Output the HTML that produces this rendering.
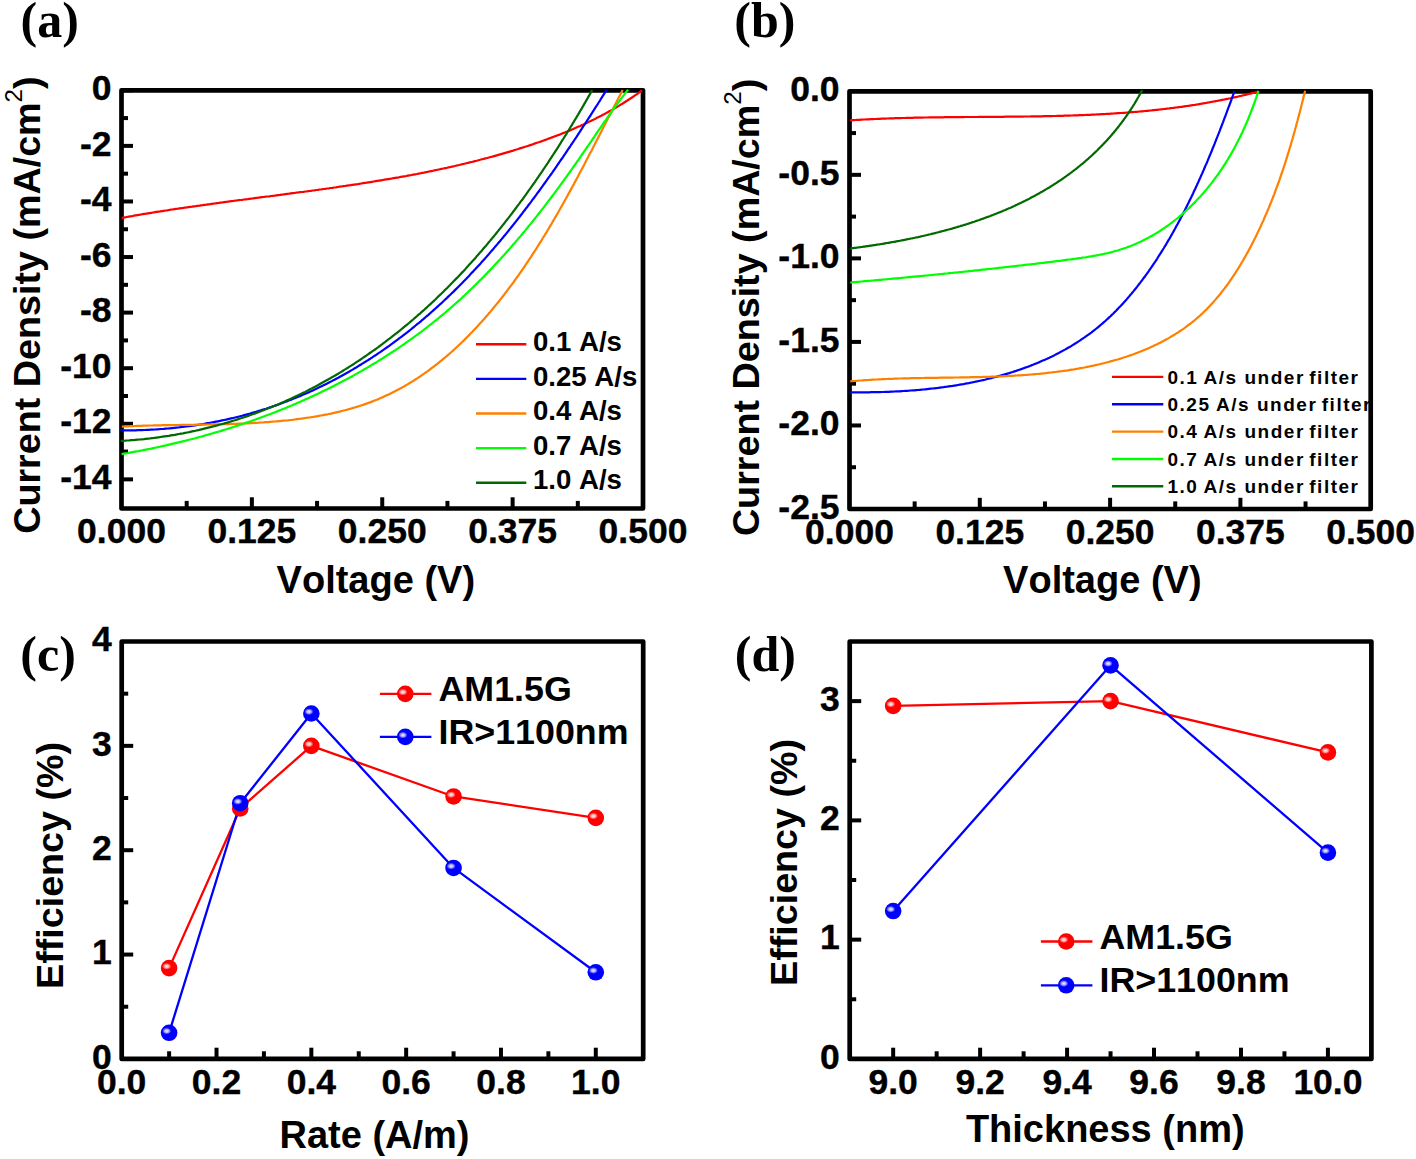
<!DOCTYPE html>
<html><head><meta charset="utf-8"><title>JV curves and efficiency</title><style>
html,body{margin:0;padding:0;background:#fff;}
body{width:1416px;height:1159px;overflow:hidden;}
svg{display:block;}
text{font-family:"Liberation Sans", sans-serif;font-weight:bold;fill:#000;font-kerning:none;}
.tk{font-size:35.5px;stroke:#000;stroke-width:0.4px;}
.ti{font-size:38px;}
.pl{font-family:"Liberation Serif", serif;font-size:50px;}
.lga{font-size:27.6px;}
.lgb{font-size:19px;letter-spacing:1.5px;}
.lgc{font-size:35.8px;}
</style></head><body>
<svg width="1416" height="1159" viewBox="0 0 1416 1159">
<defs>
<radialGradient id="hl"><stop offset="0" stop-color="#fff" stop-opacity="0.95"/><stop offset="0.45" stop-color="#fff" stop-opacity="0.7"/><stop offset="1" stop-color="#fff" stop-opacity="0"/></radialGradient>
</defs>
<rect width="1416" height="1159" fill="#fff"/>
<text x="20.5" y="37.3" class="pl">(a)</text>
<text x="734.3" y="37.3" class="pl">(b)</text>
<text x="20.3" y="671.3" class="pl">(c)</text>
<text x="734.8" y="670.8" class="pl">(d)</text>
<line x1="476" y1="344.3" x2="526.3" y2="344.3" stroke="#ff0000" stroke-width="2.4"/>
<text x="533" y="350.9" class="lga">0.1 A/s</text>
<line x1="476" y1="378.9" x2="526.3" y2="378.9" stroke="#0000ff" stroke-width="2.4"/>
<text x="533" y="385.5" class="lga">0.25 A/s</text>
<line x1="476" y1="413.5" x2="526.3" y2="413.5" stroke="#ff8000" stroke-width="2.4"/>
<text x="533" y="420.1" class="lga">0.4 A/s</text>
<line x1="476" y1="448.1" x2="526.3" y2="448.1" stroke="#00ff00" stroke-width="2.4"/>
<text x="533" y="454.7" class="lga">0.7 A/s</text>
<line x1="476" y1="482.7" x2="526.3" y2="482.7" stroke="#006a00" stroke-width="2.4"/>
<text x="533" y="489.3" class="lga">1.0 A/s</text>
<line x1="1112" y1="376.9" x2="1163.3" y2="376.9" stroke="#ff0000" stroke-width="2.4"/>
<text y="383.7" class="lgb"><tspan x="1167.5">0.1</tspan><tspan x="1203.5">A/s</tspan><tspan x="1244.5">under</tspan><tspan x="1309.3">filter</tspan></text>
<line x1="1112" y1="404.25" x2="1163.3" y2="404.25" stroke="#0000ff" stroke-width="2.4"/>
<text y="411.05" class="lgb"><tspan x="1167.5">0.25</tspan><tspan x="1216">A/s</tspan><tspan x="1257">under</tspan><tspan x="1321.8">filter</tspan></text>
<line x1="1112" y1="431.6" x2="1163.3" y2="431.6" stroke="#ff8000" stroke-width="2.4"/>
<text y="438.4" class="lgb"><tspan x="1167.5">0.4</tspan><tspan x="1203.5">A/s</tspan><tspan x="1244.5">under</tspan><tspan x="1309.3">filter</tspan></text>
<line x1="1112" y1="458.95" x2="1163.3" y2="458.95" stroke="#00ff00" stroke-width="2.4"/>
<text y="465.75" class="lgb"><tspan x="1167.5">0.7</tspan><tspan x="1203.5">A/s</tspan><tspan x="1244.5">under</tspan><tspan x="1309.3">filter</tspan></text>
<line x1="1112" y1="486.3" x2="1163.3" y2="486.3" stroke="#006a00" stroke-width="2.4"/>
<text y="493.1" class="lgb"><tspan x="1167.5">1.0</tspan><tspan x="1203.5">A/s</tspan><tspan x="1244.5">under</tspan><tspan x="1309.3">filter</tspan></text>
<polyline points="169.11,968.12 240.22,808.46 311.34,745.85 453.56,796.46 595.79,817.85" fill="none" stroke="#ff0000" stroke-width="2.3" stroke-linejoin="round"/>
<polyline points="169.11,1032.81 240.22,803.24 311.34,713.5 453.56,867.94 595.79,972.29" fill="none" stroke="#0000ff" stroke-width="2.3" stroke-linejoin="round"/>
<circle cx="169.11" cy="968.12" r="8.3" fill="#ff0000"/>
<ellipse cx="166.71" cy="966.32" rx="4.6" ry="3.4" fill="url(#hl)"/>
<circle cx="240.22" cy="808.46" r="8.3" fill="#ff0000"/>
<ellipse cx="237.82" cy="806.66" rx="4.6" ry="3.4" fill="url(#hl)"/>
<circle cx="311.34" cy="745.85" r="8.3" fill="#ff0000"/>
<ellipse cx="308.94" cy="744.05" rx="4.6" ry="3.4" fill="url(#hl)"/>
<circle cx="453.56" cy="796.46" r="8.3" fill="#ff0000"/>
<ellipse cx="451.16" cy="794.66" rx="4.6" ry="3.4" fill="url(#hl)"/>
<circle cx="595.79" cy="817.85" r="8.3" fill="#ff0000"/>
<ellipse cx="593.39" cy="816.05" rx="4.6" ry="3.4" fill="url(#hl)"/>
<circle cx="169.11" cy="1032.81" r="8.3" fill="#0000ff"/>
<ellipse cx="166.71" cy="1031.01" rx="4.6" ry="3.4" fill="url(#hl)"/>
<circle cx="240.22" cy="803.24" r="8.3" fill="#0000ff"/>
<ellipse cx="237.82" cy="801.44" rx="4.6" ry="3.4" fill="url(#hl)"/>
<circle cx="311.34" cy="713.5" r="8.3" fill="#0000ff"/>
<ellipse cx="308.94" cy="711.7" rx="4.6" ry="3.4" fill="url(#hl)"/>
<circle cx="453.56" cy="867.94" r="8.3" fill="#0000ff"/>
<ellipse cx="451.16" cy="866.14" rx="4.6" ry="3.4" fill="url(#hl)"/>
<circle cx="595.79" cy="972.29" r="8.3" fill="#0000ff"/>
<ellipse cx="593.39" cy="970.49" rx="4.6" ry="3.4" fill="url(#hl)"/>
<polyline points="893.17,705.9 1110.55,701.13 1327.93,752.41" fill="none" stroke="#ff0000" stroke-width="2.3" stroke-linejoin="round"/>
<polyline points="893.17,911.02 1110.55,665.35 1327.93,852.59" fill="none" stroke="#0000ff" stroke-width="2.3" stroke-linejoin="round"/>
<circle cx="893.17" cy="705.9" r="8.3" fill="#ff0000"/>
<ellipse cx="890.77" cy="704.1" rx="4.6" ry="3.4" fill="url(#hl)"/>
<circle cx="1110.55" cy="701.13" r="8.3" fill="#ff0000"/>
<ellipse cx="1108.15" cy="699.33" rx="4.6" ry="3.4" fill="url(#hl)"/>
<circle cx="1327.93" cy="752.41" r="8.3" fill="#ff0000"/>
<ellipse cx="1325.53" cy="750.61" rx="4.6" ry="3.4" fill="url(#hl)"/>
<circle cx="893.17" cy="911.02" r="8.3" fill="#0000ff"/>
<ellipse cx="890.77" cy="909.22" rx="4.6" ry="3.4" fill="url(#hl)"/>
<circle cx="1110.55" cy="665.35" r="8.3" fill="#0000ff"/>
<ellipse cx="1108.15" cy="663.55" rx="4.6" ry="3.4" fill="url(#hl)"/>
<circle cx="1327.93" cy="852.59" r="8.3" fill="#0000ff"/>
<ellipse cx="1325.53" cy="850.79" rx="4.6" ry="3.4" fill="url(#hl)"/>
<line x1="379.9" y1="693.9" x2="431.4" y2="693.9" stroke="#ff0000" stroke-width="2.3"/>
<circle cx="405.3" cy="693.9" r="8.3" fill="#ff0000"/>
<ellipse cx="402.9" cy="692.1" rx="4.6" ry="3.4" fill="url(#hl)"/>
<text x="438.5" y="700.9" class="lgc">AM1.5G</text>
<line x1="379.9" y1="736.9" x2="431.4" y2="736.9" stroke="#0000ff" stroke-width="2.3"/>
<circle cx="405.3" cy="736.9" r="8.3" fill="#0000ff"/>
<ellipse cx="402.9" cy="735.1" rx="4.6" ry="3.4" fill="url(#hl)"/>
<text x="438.5" y="743.9" class="lgc">IR&gt;1100nm</text>
<line x1="1040.9" y1="941.5" x2="1092.4" y2="941.5" stroke="#ff0000" stroke-width="2.3"/>
<circle cx="1066.2" cy="941.5" r="8.3" fill="#ff0000"/>
<ellipse cx="1063.8" cy="939.7" rx="4.6" ry="3.4" fill="url(#hl)"/>
<text x="1099.5" y="948.5" class="lgc">AM1.5G</text>
<line x1="1040.9" y1="985.3" x2="1092.4" y2="985.3" stroke="#0000ff" stroke-width="2.3"/>
<circle cx="1066.2" cy="985.3" r="8.3" fill="#0000ff"/>
<ellipse cx="1063.8" cy="983.5" rx="4.6" ry="3.4" fill="url(#hl)"/>
<text x="1099.5" y="992.3" class="lgc">IR&gt;1100nm</text>
<rect x="121.5" y="90.3" width="521.5" height="418.2" fill="none" stroke="#000" stroke-width="4.7" stroke-linejoin="round"/>
<rect x="849.5" y="91.3" width="521.2" height="417.7" fill="none" stroke="#000" stroke-width="4.7" stroke-linejoin="round"/>
<rect x="121.7" y="641.5" width="521.5" height="417.4" fill="none" stroke="#000" stroke-width="4.7" stroke-linejoin="round"/>
<rect x="849.7" y="641.5" width="521.7" height="417.4" fill="none" stroke="#000" stroke-width="4.7" stroke-linejoin="round"/>
<line x1="121.5" y1="90.3" x2="133" y2="90.3" stroke="#000" stroke-width="4.0"/>
<line x1="121.5" y1="145.88" x2="133" y2="145.88" stroke="#000" stroke-width="4.0"/>
<line x1="121.5" y1="201.46" x2="133" y2="201.46" stroke="#000" stroke-width="4.0"/>
<line x1="121.5" y1="257.04" x2="133" y2="257.04" stroke="#000" stroke-width="4.0"/>
<line x1="121.5" y1="312.62" x2="133" y2="312.62" stroke="#000" stroke-width="4.0"/>
<line x1="121.5" y1="368.2" x2="133" y2="368.2" stroke="#000" stroke-width="4.0"/>
<line x1="121.5" y1="423.78" x2="133" y2="423.78" stroke="#000" stroke-width="4.0"/>
<line x1="121.5" y1="479.36" x2="133" y2="479.36" stroke="#000" stroke-width="4.0"/>
<line x1="121.5" y1="118.09" x2="128" y2="118.09" stroke="#000" stroke-width="4.0"/>
<line x1="121.5" y1="173.67" x2="128" y2="173.67" stroke="#000" stroke-width="4.0"/>
<line x1="121.5" y1="229.25" x2="128" y2="229.25" stroke="#000" stroke-width="4.0"/>
<line x1="121.5" y1="284.83" x2="128" y2="284.83" stroke="#000" stroke-width="4.0"/>
<line x1="121.5" y1="340.41" x2="128" y2="340.41" stroke="#000" stroke-width="4.0"/>
<line x1="121.5" y1="395.99" x2="128" y2="395.99" stroke="#000" stroke-width="4.0"/>
<line x1="121.5" y1="451.57" x2="128" y2="451.57" stroke="#000" stroke-width="4.0"/>
<text x="111.5" y="100" text-anchor="end" class="tk">0</text>
<text x="111.5" y="155.58" text-anchor="end" class="tk">-2</text>
<text x="111.5" y="211.16" text-anchor="end" class="tk">-4</text>
<text x="111.5" y="266.74" text-anchor="end" class="tk">-6</text>
<text x="111.5" y="322.32" text-anchor="end" class="tk">-8</text>
<text x="111.5" y="377.9" text-anchor="end" class="tk">-10</text>
<text x="111.5" y="433.48" text-anchor="end" class="tk">-12</text>
<text x="111.5" y="489.06" text-anchor="end" class="tk">-14</text>
<line x1="251.88" y1="508.5" x2="251.88" y2="497.3" stroke="#000" stroke-width="4.0"/>
<line x1="382.25" y1="508.5" x2="382.25" y2="497.3" stroke="#000" stroke-width="4.0"/>
<line x1="512.62" y1="508.5" x2="512.62" y2="497.3" stroke="#000" stroke-width="4.0"/>
<line x1="186.69" y1="508.5" x2="186.69" y2="500.9" stroke="#000" stroke-width="4.0"/>
<line x1="317.06" y1="508.5" x2="317.06" y2="500.9" stroke="#000" stroke-width="4.0"/>
<line x1="447.44" y1="508.5" x2="447.44" y2="500.9" stroke="#000" stroke-width="4.0"/>
<line x1="577.81" y1="508.5" x2="577.81" y2="500.9" stroke="#000" stroke-width="4.0"/>
<text x="121.5" y="542.9" text-anchor="middle" class="tk">0.000</text>
<text x="251.88" y="542.9" text-anchor="middle" class="tk">0.125</text>
<text x="382.25" y="542.9" text-anchor="middle" class="tk">0.250</text>
<text x="512.62" y="542.9" text-anchor="middle" class="tk">0.375</text>
<text x="643" y="542.9" text-anchor="middle" class="tk">0.500</text>
<line x1="849.5" y1="174.84" x2="861" y2="174.84" stroke="#000" stroke-width="4.0"/>
<line x1="849.5" y1="258.38" x2="861" y2="258.38" stroke="#000" stroke-width="4.0"/>
<line x1="849.5" y1="341.92" x2="861" y2="341.92" stroke="#000" stroke-width="4.0"/>
<line x1="849.5" y1="425.46" x2="861" y2="425.46" stroke="#000" stroke-width="4.0"/>
<line x1="849.5" y1="133.07" x2="856" y2="133.07" stroke="#000" stroke-width="4.0"/>
<line x1="849.5" y1="216.61" x2="856" y2="216.61" stroke="#000" stroke-width="4.0"/>
<line x1="849.5" y1="300.15" x2="856" y2="300.15" stroke="#000" stroke-width="4.0"/>
<line x1="849.5" y1="383.69" x2="856" y2="383.69" stroke="#000" stroke-width="4.0"/>
<line x1="849.5" y1="467.23" x2="856" y2="467.23" stroke="#000" stroke-width="4.0"/>
<text x="839.5" y="101" text-anchor="end" class="tk">0.0</text>
<text x="839.5" y="184.54" text-anchor="end" class="tk">-0.5</text>
<text x="839.5" y="268.08" text-anchor="end" class="tk">-1.0</text>
<text x="839.5" y="351.62" text-anchor="end" class="tk">-1.5</text>
<text x="839.5" y="435.16" text-anchor="end" class="tk">-2.0</text>
<text x="839.5" y="518.7" text-anchor="end" class="tk">-2.5</text>
<line x1="979.8" y1="509" x2="979.8" y2="497.8" stroke="#000" stroke-width="4.0"/>
<line x1="1110.1" y1="509" x2="1110.1" y2="497.8" stroke="#000" stroke-width="4.0"/>
<line x1="1240.4" y1="509" x2="1240.4" y2="497.8" stroke="#000" stroke-width="4.0"/>
<line x1="914.65" y1="509" x2="914.65" y2="501.4" stroke="#000" stroke-width="4.0"/>
<line x1="1044.95" y1="509" x2="1044.95" y2="501.4" stroke="#000" stroke-width="4.0"/>
<line x1="1175.25" y1="509" x2="1175.25" y2="501.4" stroke="#000" stroke-width="4.0"/>
<line x1="1305.55" y1="509" x2="1305.55" y2="501.4" stroke="#000" stroke-width="4.0"/>
<text x="849.5" y="543.6" text-anchor="middle" class="tk">0.000</text>
<text x="979.8" y="543.6" text-anchor="middle" class="tk">0.125</text>
<text x="1110.1" y="543.6" text-anchor="middle" class="tk">0.250</text>
<text x="1240.4" y="543.6" text-anchor="middle" class="tk">0.375</text>
<text x="1370.7" y="543.6" text-anchor="middle" class="tk">0.500</text>
<line x1="121.7" y1="954.55" x2="133.2" y2="954.55" stroke="#000" stroke-width="4.0"/>
<line x1="121.7" y1="850.2" x2="133.2" y2="850.2" stroke="#000" stroke-width="4.0"/>
<line x1="121.7" y1="745.85" x2="133.2" y2="745.85" stroke="#000" stroke-width="4.0"/>
<line x1="121.7" y1="1006.73" x2="128.2" y2="1006.73" stroke="#000" stroke-width="4.0"/>
<line x1="121.7" y1="902.38" x2="128.2" y2="902.38" stroke="#000" stroke-width="4.0"/>
<line x1="121.7" y1="798.03" x2="128.2" y2="798.03" stroke="#000" stroke-width="4.0"/>
<line x1="121.7" y1="693.67" x2="128.2" y2="693.67" stroke="#000" stroke-width="4.0"/>
<text x="111.7" y="1068.6" text-anchor="end" class="tk">0</text>
<text x="111.7" y="964.25" text-anchor="end" class="tk">1</text>
<text x="111.7" y="859.9" text-anchor="end" class="tk">2</text>
<text x="111.7" y="755.55" text-anchor="end" class="tk">3</text>
<text x="111.7" y="651.2" text-anchor="end" class="tk">4</text>
<line x1="216.52" y1="1058.9" x2="216.52" y2="1047.7" stroke="#000" stroke-width="4.0"/>
<line x1="311.34" y1="1058.9" x2="311.34" y2="1047.7" stroke="#000" stroke-width="4.0"/>
<line x1="406.15" y1="1058.9" x2="406.15" y2="1047.7" stroke="#000" stroke-width="4.0"/>
<line x1="500.97" y1="1058.9" x2="500.97" y2="1047.7" stroke="#000" stroke-width="4.0"/>
<line x1="595.79" y1="1058.9" x2="595.79" y2="1047.7" stroke="#000" stroke-width="4.0"/>
<line x1="169.11" y1="1058.9" x2="169.11" y2="1051.3" stroke="#000" stroke-width="4.0"/>
<line x1="263.93" y1="1058.9" x2="263.93" y2="1051.3" stroke="#000" stroke-width="4.0"/>
<line x1="358.75" y1="1058.9" x2="358.75" y2="1051.3" stroke="#000" stroke-width="4.0"/>
<line x1="453.56" y1="1058.9" x2="453.56" y2="1051.3" stroke="#000" stroke-width="4.0"/>
<line x1="548.38" y1="1058.9" x2="548.38" y2="1051.3" stroke="#000" stroke-width="4.0"/>
<text x="121.7" y="1093.8" text-anchor="middle" class="tk">0.0</text>
<text x="216.52" y="1093.8" text-anchor="middle" class="tk">0.2</text>
<text x="311.34" y="1093.8" text-anchor="middle" class="tk">0.4</text>
<text x="406.15" y="1093.8" text-anchor="middle" class="tk">0.6</text>
<text x="500.97" y="1093.8" text-anchor="middle" class="tk">0.8</text>
<text x="595.79" y="1093.8" text-anchor="middle" class="tk">1.0</text>
<line x1="849.7" y1="939.64" x2="861.2" y2="939.64" stroke="#000" stroke-width="4.0"/>
<line x1="849.7" y1="820.39" x2="861.2" y2="820.39" stroke="#000" stroke-width="4.0"/>
<line x1="849.7" y1="701.13" x2="861.2" y2="701.13" stroke="#000" stroke-width="4.0"/>
<line x1="849.7" y1="999.27" x2="856.2" y2="999.27" stroke="#000" stroke-width="4.0"/>
<line x1="849.7" y1="880.01" x2="856.2" y2="880.01" stroke="#000" stroke-width="4.0"/>
<line x1="849.7" y1="760.76" x2="856.2" y2="760.76" stroke="#000" stroke-width="4.0"/>
<text x="839.7" y="1068.6" text-anchor="end" class="tk">0</text>
<text x="839.7" y="949.34" text-anchor="end" class="tk">1</text>
<text x="839.7" y="830.09" text-anchor="end" class="tk">2</text>
<text x="839.7" y="710.83" text-anchor="end" class="tk">3</text>
<line x1="893.17" y1="1058.9" x2="893.17" y2="1047.7" stroke="#000" stroke-width="4.0"/>
<line x1="980.12" y1="1058.9" x2="980.12" y2="1047.7" stroke="#000" stroke-width="4.0"/>
<line x1="1067.08" y1="1058.9" x2="1067.08" y2="1047.7" stroke="#000" stroke-width="4.0"/>
<line x1="1154.02" y1="1058.9" x2="1154.02" y2="1047.7" stroke="#000" stroke-width="4.0"/>
<line x1="1240.98" y1="1058.9" x2="1240.98" y2="1047.7" stroke="#000" stroke-width="4.0"/>
<line x1="1327.93" y1="1058.9" x2="1327.93" y2="1047.7" stroke="#000" stroke-width="4.0"/>
<line x1="936.65" y1="1058.9" x2="936.65" y2="1051.3" stroke="#000" stroke-width="4.0"/>
<line x1="1023.6" y1="1058.9" x2="1023.6" y2="1051.3" stroke="#000" stroke-width="4.0"/>
<line x1="1110.55" y1="1058.9" x2="1110.55" y2="1051.3" stroke="#000" stroke-width="4.0"/>
<line x1="1197.5" y1="1058.9" x2="1197.5" y2="1051.3" stroke="#000" stroke-width="4.0"/>
<line x1="1284.45" y1="1058.9" x2="1284.45" y2="1051.3" stroke="#000" stroke-width="4.0"/>
<text x="893.17" y="1093.8" text-anchor="middle" class="tk">9.0</text>
<text x="980.12" y="1093.8" text-anchor="middle" class="tk">9.2</text>
<text x="1067.08" y="1093.8" text-anchor="middle" class="tk">9.4</text>
<text x="1154.02" y="1093.8" text-anchor="middle" class="tk">9.6</text>
<text x="1240.98" y="1093.8" text-anchor="middle" class="tk">9.8</text>
<text x="1327.93" y="1093.8" text-anchor="middle" class="tk">10.0</text>
<path d="M121.7,217.9 L123.5,217.6 L125.2,217.3 L126.9,217.0 L128.7,216.7 L130.4,216.4 L132.2,216.1 L133.9,215.7 L135.7,215.4 L137.4,215.1 L139.2,214.8 L140.9,214.5 L142.7,214.2 L144.4,213.9 L146.2,213.7 L147.9,213.4 L149.7,213.1 L151.4,212.8 L153.2,212.5 L155.0,212.2 L156.7,211.9 L158.5,211.6 L160.2,211.4 L162.0,211.1 L163.8,210.8 L165.5,210.5 L167.3,210.3 L169.1,210.0 L170.8,209.7 L172.6,209.5 L174.4,209.2 L176.1,208.9 L177.9,208.7 L179.7,208.4 L181.5,208.1 L183.2,207.9 L185.0,207.6 L186.8,207.4 L188.6,207.1 L190.4,206.8 L192.1,206.6 L193.9,206.3 L195.7,206.1 L197.5,205.8 L199.3,205.6 L201.0,205.3 L202.8,205.1 L204.6,204.8 L206.4,204.6 L208.2,204.3 L210.0,204.1 L211.8,203.8 L213.5,203.6 L215.3,203.4 L217.1,203.1 L218.9,202.9 L220.7,202.6 L222.5,202.4 L224.3,202.1 L226.1,201.9 L227.9,201.7 L229.7,201.4 L231.5,201.2 L233.3,201.0 L235.1,200.7 L236.9,200.5 L238.6,200.2 L240.4,200.0 L242.2,199.8 L244.0,199.5 L245.8,199.3 L247.6,199.1 L249.4,198.8 L251.2,198.6 L253.0,198.4 L254.8,198.1 L256.6,197.9 L258.4,197.7 L260.2,197.4 L262.0,197.2 L263.8,197.0 L265.7,196.7 L267.5,196.5 L269.3,196.3 L271.1,196.0 L272.9,195.8 L274.7,195.6 L276.5,195.3 L278.3,195.1 L280.1,194.9 L281.9,194.6 L283.7,194.4 L285.5,194.1 L287.3,193.9 L289.1,193.7 L290.9,193.4 L292.7,193.2 L294.5,193.0 L296.3,192.7 L298.1,192.5 L299.9,192.2 L301.7,192.0 L303.5,191.8 L305.4,191.5 L307.2,191.3 L309.0,191.0 L310.8,190.8 L312.6,190.5 L314.4,190.3 L316.2,190.0 L318.0,189.8 L319.8,189.5 L321.6,189.3 L323.4,189.0 L325.2,188.8 L327.0,188.5 L328.8,188.3 L330.6,188.0 L332.4,187.8 L334.2,187.5 L336.0,187.3 L337.8,187.0 L339.6,186.7 L341.4,186.5 L343.3,186.2 L345.1,186.0 L346.9,185.7 L348.7,185.4 L350.5,185.2 L352.3,184.9 L354.1,184.6 L355.9,184.3 L357.7,184.1 L359.5,183.8 L361.3,183.5 L363.1,183.2 L364.9,182.9 L366.7,182.7 L368.5,182.4 L370.3,182.1 L372.1,181.8 L373.8,181.5 L375.6,181.2 L377.4,180.9 L379.2,180.6 L381.0,180.3 L382.8,180.0 L384.6,179.7 L386.4,179.4 L388.2,179.1 L390.0,178.8 L391.8,178.5 L393.6,178.2 L395.4,177.9 L397.1,177.6 L398.9,177.3 L400.7,176.9 L402.5,176.6 L404.3,176.3 L406.1,176.0 L407.9,175.6 L409.6,175.3 L411.4,175.0 L413.2,174.6 L415.0,174.3 L416.8,174.0 L418.6,173.6 L420.3,173.3 L422.1,172.9 L423.9,172.6 L425.7,172.2 L427.4,171.9 L429.2,171.5 L431.0,171.1 L432.8,170.8 L434.5,170.4 L436.3,170.0 L438.1,169.7 L439.8,169.3 L441.6,168.9 L443.4,168.5 L445.1,168.1 L446.9,167.8 L448.7,167.4 L450.4,167.0 L452.2,166.6 L454.0,166.2 L455.7,165.8 L457.5,165.4 L459.2,165.0 L461.0,164.5 L462.7,164.1 L464.5,163.7 L466.3,163.3 L468.0,162.9 L469.8,162.4 L471.5,162.0 L473.3,161.6 L475.0,161.1 L476.7,160.7 L478.5,160.2 L480.2,159.8 L482.0,159.3 L483.7,158.9 L485.4,158.4 L487.2,158.0 L488.9,157.5 L490.7,157.0 L492.4,156.6 L494.1,156.1 L495.9,155.6 L497.6,155.1 L499.3,154.6 L501.0,154.1 L502.8,153.6 L504.5,153.1 L506.2,152.6 L507.9,152.1 L509.6,151.6 L511.4,151.1 L513.1,150.6 L514.8,150.0 L516.5,149.5 L518.2,149.0 L519.9,148.4 L521.6,147.9 L523.3,147.4 L525.1,146.8 L526.8,146.3 L528.5,145.7 L530.2,145.1 L531.9,144.6 L533.6,144.0 L535.2,143.4 L536.9,142.8 L538.6,142.3 L540.3,141.7 L542.0,141.1 L543.7,140.5 L545.4,139.9 L547.1,139.3 L548.7,138.6 L550.4,138.0 L552.1,137.4 L553.8,136.8 L555.4,136.1 L557.1,135.5 L558.8,134.9 L560.5,134.2 L562.1,133.5 L563.8,132.9 L565.4,132.2 L567.1,131.5 L568.8,130.9 L570.4,130.2 L572.1,129.5 L573.7,128.8 L575.4,128.1 L577.0,127.3 L578.6,126.6 L580.3,125.9 L581.9,125.1 L583.5,124.4 L585.2,123.6 L586.8,122.9 L588.4,122.1 L590.1,121.3 L591.7,120.5 L593.3,119.8 L594.9,119.0 L596.5,118.1 L598.1,117.3 L599.7,116.5 L601.3,115.7 L602.9,114.8 L604.5,114.0 L606.1,113.1 L607.7,112.2 L609.3,111.3 L610.9,110.5 L612.5,109.6 L614.1,108.7 L615.6,107.7 L617.2,106.8 L618.8,105.9 L620.3,104.9 L621.9,104.0 L623.5,103.0 L625.0,102.0 L626.6,101.0 L628.1,100.0 L629.7,99.0 L631.2,98.0 L632.8,97.0 L634.3,95.9 L635.8,94.9 L637.4,93.8 L638.9,92.7 L640.4,91.6 L641.9,90.5" fill="none" stroke="#ff0000" stroke-width="2.2" stroke-linejoin="round"/>
<path d="M120.5,430.4 L122.7,430.4 L124.9,430.4 L127.1,430.4 L129.2,430.4 L131.4,430.3 L133.6,430.3 L135.7,430.3 L137.9,430.2 L140.0,430.1 L142.2,430.1 L144.3,430.0 L146.5,429.9 L148.6,429.8 L150.8,429.7 L152.9,429.6 L155.0,429.5 L157.2,429.3 L159.3,429.2 L161.4,429.0 L163.6,428.9 L165.7,428.7 L167.8,428.5 L169.9,428.3 L172.1,428.1 L174.2,427.9 L176.3,427.7 L178.4,427.5 L180.5,427.2 L182.6,427.0 L184.7,426.7 L186.8,426.4 L188.9,426.2 L191.0,425.9 L193.1,425.6 L195.1,425.3 L197.2,425.0 L199.3,424.6 L201.4,424.3 L203.4,424.0 L205.5,423.6 L207.6,423.2 L209.6,422.9 L211.7,422.5 L213.8,422.1 L215.8,421.7 L217.9,421.3 L219.9,420.9 L222.0,420.4 L224.0,420.0 L226.0,419.6 L228.1,419.1 L230.1,418.6 L232.1,418.2 L234.2,417.7 L236.2,417.2 L238.2,416.7 L240.2,416.2 L242.2,415.7 L244.2,415.1 L246.2,414.6 L248.2,414.0 L250.2,413.5 L252.2,412.9 L254.2,412.3 L256.2,411.7 L258.2,411.1 L260.2,410.5 L262.2,409.9 L264.1,409.3 L266.1,408.7 L268.1,408.0 L270.0,407.4 L272.0,406.7 L273.9,406.0 L275.9,405.4 L277.8,404.7 L279.8,404.0 L281.7,403.3 L283.7,402.5 L285.6,401.8 L287.5,401.1 L289.5,400.3 L291.4,399.6 L293.3,398.8 L295.2,398.0 L297.1,397.3 L299.0,396.5 L300.9,395.7 L302.8,394.8 L304.7,394.0 L306.6,393.2 L308.5,392.4 L310.4,391.5 L312.3,390.7 L314.1,389.8 L316.0,388.9 L317.9,388.0 L319.8,387.1 L321.6,386.2 L323.5,385.3 L325.3,384.4 L327.2,383.5 L329.0,382.5 L330.9,381.6 L332.7,380.6 L334.5,379.7 L336.3,378.7 L338.2,377.7 L340.0,376.7 L341.8,375.7 L343.6,374.7 L345.4,373.7 L347.2,372.7 L349.0,371.7 L350.8,370.6 L352.6,369.6 L354.4,368.5 L356.2,367.5 L357.9,366.4 L359.7,365.3 L361.5,364.2 L363.2,363.1 L365.0,362.0 L366.8,360.9 L368.5,359.8 L370.3,358.7 L372.0,357.6 L373.7,356.4 L375.5,355.3 L377.2,354.1 L378.9,352.9 L380.6,351.8 L382.3,350.6 L384.1,349.4 L385.8,348.2 L387.5,347.0 L389.2,345.8 L390.8,344.6 L392.5,343.4 L394.2,342.1 L395.9,340.9 L397.6,339.7 L399.2,338.4 L400.9,337.2 L402.6,335.9 L404.2,334.6 L405.9,333.3 L407.5,332.1 L409.1,330.8 L410.8,329.5 L412.4,328.2 L414.0,326.9 L415.6,325.5 L417.2,324.2 L418.9,322.9 L420.5,321.6 L422.1,320.2 L423.7,318.9 L425.2,317.5 L426.8,316.1 L428.4,314.8 L430.0,313.4 L431.5,312.0 L433.1,310.6 L434.7,309.2 L436.2,307.8 L437.8,306.4 L439.3,305.0 L440.9,303.6 L442.4,302.2 L443.9,300.8 L445.4,299.3 L447.0,297.9 L448.5,296.4 L450.0,295.0 L451.5,293.5 L453.0,292.1 L454.5,290.6 L456.0,289.1 L457.4,287.7 L458.9,286.2 L460.4,284.7 L461.9,283.2 L463.3,281.7 L464.8,280.2 L466.3,278.7 L467.7,277.2 L469.2,275.7 L470.6,274.1 L472.0,272.6 L473.5,271.1 L474.9,269.6 L476.3,268.0 L477.7,266.5 L479.2,264.9 L480.6,263.4 L482.0,261.8 L483.4,260.2 L484.8,258.7 L486.2,257.1 L487.6,255.5 L489.0,254.0 L490.3,252.4 L491.7,250.8 L493.1,249.2 L494.4,247.6 L495.8,246.0 L497.2,244.4 L498.5,242.8 L499.9,241.2 L501.2,239.6 L502.6,238.0 L503.9,236.3 L505.3,234.7 L506.6,233.1 L507.9,231.5 L509.2,229.8 L510.6,228.2 L511.9,226.5 L513.2,224.9 L514.5,223.3 L515.8,221.6 L517.1,220.0 L518.4,218.3 L519.7,216.7 L521.0,215.0 L522.3,213.3 L523.5,211.7 L524.8,210.0 L526.1,208.3 L527.4,206.7 L528.6,205.0 L529.9,203.3 L531.2,201.6 L532.4,199.9 L533.7,198.3 L534.9,196.6 L536.2,194.9 L537.4,193.2 L538.7,191.5 L539.9,189.8 L541.1,188.1 L542.4,186.4 L543.6,184.7 L544.8,183.0 L546.0,181.3 L547.2,179.6 L548.4,177.9 L549.7,176.2 L550.9,174.5 L552.1,172.8 L553.3,171.0 L554.5,169.3 L555.7,167.6 L556.9,165.9 L558.0,164.2 L559.2,162.5 L560.4,160.7 L561.6,159.0 L562.8,157.3 L563.9,155.6 L565.1,153.9 L566.3,152.1 L567.4,150.4 L568.6,148.7 L569.8,147.0 L570.9,145.2 L572.1,143.5 L573.2,141.8 L574.4,140.0 L575.5,138.3 L576.7,136.6 L577.8,134.9 L578.9,133.1 L580.1,131.4 L581.2,129.7 L582.3,127.9 L583.4,126.2 L584.6,124.5 L585.7,122.8 L586.8,121.0 L587.9,119.3 L589.0,117.6 L590.2,115.8 L591.3,114.1 L592.4,112.4 L593.5,110.7 L594.6,108.9 L595.7,107.2 L596.8,105.5 L597.9,103.8 L599.0,102.0 L600.1,100.3 L601.1,98.6 L602.2,96.9 L603.3,95.2 L604.4,93.4 L605.5,91.7 L606.6,90.0" fill="none" stroke="#0000ff" stroke-width="2.2" stroke-linejoin="round"/>
<path d="M121.8,426.6 L123.9,426.5 L126.1,426.4 L128.2,426.3 L130.3,426.2 L132.5,426.1 L134.6,426.0 L136.8,425.9 L139.0,425.8 L141.1,425.8 L143.3,425.7 L145.5,425.6 L147.6,425.6 L149.8,425.5 L152.0,425.5 L154.2,425.4 L156.4,425.4 L158.5,425.3 L160.7,425.3 L162.9,425.2 L165.1,425.2 L167.3,425.1 L169.5,425.1 L171.7,425.1 L174.0,425.0 L176.2,425.0 L178.4,425.0 L180.6,424.9 L182.8,424.9 L185.0,424.9 L187.3,424.8 L189.5,424.8 L191.7,424.8 L193.9,424.8 L196.2,424.7 L198.4,424.7 L200.6,424.6 L202.9,424.6 L205.1,424.6 L207.3,424.5 L209.6,424.5 L211.8,424.4 L214.1,424.4 L216.3,424.4 L218.5,424.3 L220.8,424.2 L223.0,424.2 L225.3,424.1 L227.5,424.1 L229.8,424.0 L232.0,423.9 L234.2,423.8 L236.5,423.8 L238.7,423.7 L241.0,423.6 L243.2,423.5 L245.5,423.4 L247.7,423.3 L250.0,423.2 L252.2,423.1 L254.4,422.9 L256.7,422.8 L258.9,422.7 L261.2,422.5 L263.4,422.4 L265.6,422.2 L267.9,422.1 L270.1,421.9 L272.4,421.7 L274.6,421.5 L276.8,421.3 L279.1,421.1 L281.3,420.9 L283.5,420.7 L285.7,420.5 L288.0,420.3 L290.2,420.0 L292.4,419.8 L294.6,419.5 L296.8,419.2 L299.1,418.9 L301.3,418.7 L303.5,418.3 L305.7,418.0 L307.9,417.7 L310.1,417.4 L312.3,417.0 L314.5,416.7 L316.7,416.3 L318.9,415.9 L321.1,415.5 L323.2,415.1 L325.4,414.7 L327.6,414.3 L329.8,413.8 L331.9,413.4 L334.1,412.9 L336.2,412.4 L338.4,411.9 L340.5,411.4 L342.7,410.8 L344.8,410.3 L346.9,409.7 L349.1,409.1 L351.2,408.5 L353.3,407.9 L355.4,407.3 L357.5,406.6 L359.6,406.0 L361.7,405.3 L363.7,404.6 L365.8,403.9 L367.9,403.1 L369.9,402.4 L372.0,401.6 L374.0,400.8 L376.1,400.0 L378.1,399.2 L380.1,398.3 L382.1,397.4 L384.1,396.5 L386.1,395.6 L388.1,394.7 L390.1,393.7 L392.0,392.8 L394.0,391.8 L395.9,390.8 L397.9,389.8 L399.8,388.7 L401.7,387.7 L403.7,386.6 L405.6,385.5 L407.5,384.4 L409.3,383.3 L411.2,382.1 L413.1,381.0 L414.9,379.8 L416.8,378.6 L418.6,377.4 L420.5,376.2 L422.3,374.9 L424.1,373.7 L425.9,372.4 L427.7,371.1 L429.4,369.8 L431.2,368.5 L433.0,367.2 L434.7,365.8 L436.5,364.5 L438.2,363.1 L439.9,361.7 L441.6,360.4 L443.3,358.9 L445.0,357.5 L446.7,356.1 L448.4,354.7 L450.0,353.2 L451.7,351.7 L453.3,350.3 L455.0,348.8 L456.6,347.3 L458.2,345.8 L459.8,344.3 L461.4,342.7 L463.0,341.2 L464.6,339.6 L466.2,338.1 L467.7,336.5 L469.3,334.9 L470.8,333.3 L472.4,331.7 L473.9,330.1 L475.4,328.5 L476.9,326.9 L478.4,325.3 L479.9,323.6 L481.4,322.0 L482.9,320.3 L484.4,318.7 L485.8,317.0 L487.3,315.3 L488.7,313.6 L490.2,311.9 L491.6,310.2 L493.0,308.5 L494.4,306.8 L495.8,305.1 L497.2,303.4 L498.6,301.7 L500.0,299.9 L501.4,298.2 L502.7,296.5 L504.1,294.7 L505.4,292.9 L506.8,291.2 L508.1,289.4 L509.4,287.7 L510.8,285.9 L512.1,284.1 L513.4,282.3 L514.7,280.5 L516.0,278.7 L517.3,276.9 L518.6,275.1 L519.8,273.3 L521.1,271.5 L522.4,269.7 L523.6,267.8 L524.9,266.0 L526.1,264.2 L527.3,262.3 L528.6,260.5 L529.8,258.6 L531.0,256.8 L532.2,254.9 L533.4,253.1 L534.7,251.2 L535.9,249.3 L537.0,247.5 L538.2,245.6 L539.4,243.7 L540.6,241.8 L541.8,239.9 L542.9,238.0 L544.1,236.2 L545.2,234.3 L546.4,232.4 L547.5,230.5 L548.7,228.5 L549.8,226.6 L551.0,224.7 L552.1,222.8 L553.2,220.9 L554.3,219.0 L555.4,217.1 L556.6,215.1 L557.7,213.2 L558.8,211.3 L559.9,209.3 L561.0,207.4 L562.1,205.5 L563.2,203.5 L564.2,201.6 L565.3,199.7 L566.4,197.7 L567.5,195.8 L568.5,193.8 L569.6,191.9 L570.7,189.9 L571.7,188.0 L572.8,186.0 L573.9,184.1 L574.9,182.1 L576.0,180.1 L577.0,178.2 L578.1,176.2 L579.1,174.3 L580.1,172.3 L581.2,170.3 L582.2,168.4 L583.3,166.4 L584.3,164.4 L585.3,162.5 L586.3,160.5 L587.4,158.5 L588.4,156.6 L589.4,154.6 L590.4,152.6 L591.5,150.7 L592.5,148.7 L593.5,146.8 L594.5,144.8 L595.5,142.8 L596.5,140.9 L597.5,138.9 L598.6,136.9 L599.6,135.0 L600.6,133.0 L601.6,131.0 L602.6,129.1 L603.6,127.1 L604.6,125.1 L605.6,123.2 L606.6,121.2 L607.6,119.3 L608.6,117.3 L609.6,115.4 L610.6,113.4 L611.6,111.5 L612.6,109.5 L613.6,107.6 L614.6,105.6 L615.6,103.7 L616.6,101.7 L617.6,99.8 L618.6,97.8 L619.6,95.9 L620.6,94.0 L621.6,92.0 L622.6,90.1" fill="none" stroke="#ff8000" stroke-width="2.2" stroke-linejoin="round"/>
<path d="M121.6,454.1 L123.7,453.7 L125.8,453.3 L127.9,453.0 L130.0,452.6 L132.1,452.2 L134.2,451.8 L136.4,451.4 L138.5,451.1 L140.6,450.7 L142.7,450.2 L144.8,449.8 L146.9,449.4 L149.0,449.0 L151.2,448.6 L153.3,448.1 L155.4,447.7 L157.5,447.2 L159.6,446.8 L161.7,446.3 L163.8,445.8 L165.9,445.4 L168.0,444.9 L170.1,444.4 L172.2,443.9 L174.3,443.4 L176.4,442.9 L178.6,442.4 L180.7,441.9 L182.8,441.4 L184.9,440.9 L187.0,440.3 L189.1,439.8 L191.1,439.3 L193.2,438.7 L195.3,438.2 L197.4,437.6 L199.5,437.0 L201.6,436.5 L203.7,435.9 L205.8,435.3 L207.9,434.7 L210.0,434.1 L212.0,433.5 L214.1,432.9 L216.2,432.3 L218.3,431.7 L220.4,431.1 L222.4,430.4 L224.5,429.8 L226.6,429.2 L228.7,428.5 L230.7,427.9 L232.8,427.2 L234.9,426.5 L236.9,425.9 L239.0,425.2 L241.0,424.5 L243.1,423.8 L245.2,423.1 L247.2,422.4 L249.3,421.7 L251.3,421.0 L253.4,420.2 L255.4,419.5 L257.5,418.8 L259.5,418.0 L261.5,417.3 L263.6,416.5 L265.6,415.8 L267.6,415.0 L269.7,414.3 L271.7,413.5 L273.7,412.7 L275.7,411.9 L277.8,411.1 L279.8,410.3 L281.8,409.5 L283.8,408.7 L285.8,407.9 L287.8,407.0 L289.8,406.2 L291.8,405.4 L293.8,404.5 L295.8,403.7 L297.8,402.8 L299.8,401.9 L301.8,401.1 L303.8,400.2 L305.7,399.3 L307.7,398.4 L309.7,397.5 L311.7,396.6 L313.6,395.7 L315.6,394.8 L317.5,393.9 L319.5,392.9 L321.5,392.0 L323.4,391.1 L325.4,390.1 L327.3,389.2 L329.2,388.2 L331.2,387.2 L333.1,386.3 L335.0,385.3 L337.0,384.3 L338.9,383.3 L340.8,382.3 L342.7,381.3 L344.6,380.3 L346.6,379.3 L348.5,378.2 L350.4,377.2 L352.3,376.2 L354.2,375.1 L356.0,374.1 L357.9,373.0 L359.8,371.9 L361.7,370.9 L363.6,369.8 L365.4,368.7 L367.3,367.6 L369.2,366.5 L371.0,365.4 L372.9,364.3 L374.7,363.2 L376.6,362.1 L378.4,360.9 L380.2,359.8 L382.1,358.7 L383.9,357.5 L385.7,356.3 L387.5,355.2 L389.3,354.0 L391.1,352.8 L393.0,351.6 L394.8,350.5 L396.5,349.3 L398.3,348.1 L400.1,346.8 L401.9,345.6 L403.7,344.4 L405.4,343.2 L407.2,341.9 L409.0,340.7 L410.7,339.4 L412.5,338.2 L414.2,336.9 L416.0,335.6 L417.7,334.4 L419.4,333.1 L421.2,331.8 L422.9,330.5 L424.6,329.2 L426.3,327.9 L428.0,326.5 L429.7,325.2 L431.4,323.9 L433.1,322.5 L434.8,321.2 L436.5,319.8 L438.1,318.5 L439.8,317.1 L441.5,315.7 L443.1,314.3 L444.8,313.0 L446.4,311.6 L448.0,310.2 L449.7,308.7 L451.3,307.3 L452.9,305.9 L454.5,304.5 L456.2,303.0 L457.8,301.6 L459.4,300.2 L461.0,298.7 L462.5,297.2 L464.1,295.8 L465.7,294.3 L467.3,292.8 L468.8,291.3 L470.4,289.8 L472.0,288.3 L473.5,286.8 L475.1,285.3 L476.6,283.8 L478.1,282.3 L479.6,280.8 L481.2,279.2 L482.7,277.7 L484.2,276.2 L485.7,274.6 L487.2,273.1 L488.7,271.5 L490.2,269.9 L491.7,268.4 L493.1,266.8 L494.6,265.2 L496.1,263.6 L497.6,262.1 L499.0,260.5 L500.5,258.9 L501.9,257.3 L503.4,255.7 L504.8,254.1 L506.3,252.4 L507.7,250.8 L509.2,249.2 L510.6,247.6 L512.0,245.9 L513.4,244.3 L514.9,242.7 L516.3,241.0 L517.7,239.4 L519.1,237.7 L520.5,236.1 L521.9,234.4 L523.3,232.7 L524.7,231.1 L526.1,229.4 L527.5,227.7 L528.8,226.0 L530.2,224.4 L531.6,222.7 L532.9,221.0 L534.3,219.3 L535.6,217.6 L537.0,215.9 L538.3,214.2 L539.7,212.5 L541.0,210.8 L542.3,209.1 L543.7,207.4 L545.0,205.6 L546.3,203.9 L547.6,202.2 L548.9,200.5 L550.2,198.8 L551.5,197.0 L552.8,195.3 L554.1,193.6 L555.4,191.8 L556.7,190.1 L558.0,188.3 L559.3,186.6 L560.5,184.9 L561.8,183.1 L563.1,181.4 L564.3,179.6 L565.6,177.9 L566.9,176.1 L568.1,174.4 L569.4,172.6 L570.6,170.9 L571.9,169.1 L573.1,167.3 L574.3,165.6 L575.6,163.8 L576.8,162.0 L578.1,160.3 L579.3,158.5 L580.5,156.8 L581.7,155.0 L583.0,153.2 L584.2,151.4 L585.4,149.7 L586.6,147.9 L587.8,146.1 L589.1,144.4 L590.3,142.6 L591.5,140.8 L592.7,139.0 L593.9,137.3 L595.1,135.5 L596.3,133.7 L597.5,132.0 L598.7,130.2 L600.0,128.4 L601.2,126.6 L602.4,124.9 L603.6,123.1 L604.8,121.3 L606.1,119.6 L607.3,117.8 L608.6,116.0 L609.8,114.3 L611.1,112.5 L612.3,110.7 L613.6,109.0 L614.8,107.2 L616.1,105.4 L617.4,103.7 L618.7,101.9 L620.0,100.2 L621.3,98.4 L622.7,96.6 L624.0,94.9 L625.3,93.1 L626.7,91.4 L628.1,89.6" fill="none" stroke="#00ff00" stroke-width="2.2" stroke-linejoin="round"/>
<path d="M120.7,440.9 L122.9,440.8 L125.0,440.7 L127.1,440.5 L129.2,440.4 L131.3,440.2 L133.4,440.1 L135.5,439.9 L137.6,439.7 L139.7,439.5 L141.8,439.3 L143.9,439.1 L146.0,438.8 L148.1,438.6 L150.2,438.4 L152.2,438.1 L154.3,437.9 L156.4,437.6 L158.5,437.3 L160.5,437.0 L162.6,436.7 L164.7,436.4 L166.7,436.1 L168.8,435.8 L170.8,435.4 L172.9,435.1 L174.9,434.8 L177.0,434.4 L179.0,434.0 L181.1,433.6 L183.1,433.3 L185.1,432.9 L187.2,432.5 L189.2,432.1 L191.2,431.6 L193.3,431.2 L195.3,430.8 L197.3,430.3 L199.3,429.9 L201.3,429.4 L203.3,428.9 L205.3,428.4 L207.3,427.9 L209.3,427.4 L211.3,426.9 L213.3,426.4 L215.3,425.9 L217.3,425.4 L219.3,424.8 L221.3,424.3 L223.2,423.7 L225.2,423.1 L227.2,422.6 L229.2,422.0 L231.1,421.4 L233.1,420.8 L235.0,420.2 L237.0,419.6 L238.9,418.9 L240.9,418.3 L242.8,417.7 L244.8,417.0 L246.7,416.4 L248.7,415.7 L250.6,415.0 L252.5,414.3 L254.4,413.6 L256.4,412.9 L258.3,412.2 L260.2,411.5 L262.1,410.8 L264.0,410.0 L265.9,409.3 L267.8,408.5 L269.7,407.8 L271.6,407.0 L273.5,406.2 L275.4,405.5 L277.3,404.7 L279.1,403.9 L281.0,403.1 L282.9,402.3 L284.8,401.4 L286.6,400.6 L288.5,399.8 L290.3,398.9 L292.2,398.1 L294.0,397.2 L295.9,396.3 L297.7,395.4 L299.6,394.6 L301.4,393.7 L303.2,392.8 L305.1,391.9 L306.9,390.9 L308.7,390.0 L310.5,389.1 L312.3,388.1 L314.1,387.2 L316.0,386.2 L317.8,385.3 L319.5,384.3 L321.3,383.3 L323.1,382.3 L324.9,381.3 L326.7,380.3 L328.5,379.3 L330.3,378.3 L332.0,377.3 L333.8,376.3 L335.6,375.2 L337.3,374.2 L339.1,373.1 L340.8,372.1 L342.6,371.0 L344.3,369.9 L346.0,368.9 L347.8,367.8 L349.5,366.7 L351.2,365.6 L353.0,364.5 L354.7,363.4 L356.4,362.2 L358.1,361.1 L359.8,360.0 L361.5,358.8 L363.2,357.7 L364.9,356.5 L366.6,355.4 L368.3,354.2 L369.9,353.0 L371.6,351.8 L373.3,350.7 L375.0,349.5 L376.6,348.3 L378.3,347.1 L379.9,345.8 L381.6,344.6 L383.2,343.4 L384.9,342.2 L386.5,340.9 L388.1,339.7 L389.8,338.4 L391.4,337.2 L393.0,335.9 L394.6,334.7 L396.3,333.4 L397.9,332.1 L399.5,330.8 L401.1,329.5 L402.7,328.2 L404.2,326.9 L405.8,325.6 L407.4,324.3 L409.0,323.0 L410.6,321.6 L412.1,320.3 L413.7,319.0 L415.2,317.6 L416.8,316.3 L418.3,314.9 L419.9,313.6 L421.4,312.2 L423.0,310.8 L424.5,309.5 L426.0,308.1 L427.5,306.7 L429.0,305.3 L430.6,303.9 L432.1,302.5 L433.6,301.1 L435.1,299.7 L436.6,298.2 L438.0,296.8 L439.5,295.4 L441.0,294.0 L442.5,292.5 L444.0,291.1 L445.4,289.6 L446.9,288.2 L448.3,286.7 L449.8,285.3 L451.2,283.8 L452.7,282.3 L454.1,280.8 L455.5,279.4 L457.0,277.9 L458.4,276.4 L459.8,274.9 L461.2,273.4 L462.7,271.9 L464.1,270.4 L465.5,268.9 L466.9,267.3 L468.3,265.8 L469.6,264.3 L471.0,262.8 L472.4,261.2 L473.8,259.7 L475.2,258.2 L476.5,256.6 L477.9,255.1 L479.2,253.5 L480.6,251.9 L482.0,250.4 L483.3,248.8 L484.6,247.2 L486.0,245.7 L487.3,244.1 L488.6,242.5 L490.0,240.9 L491.3,239.3 L492.6,237.8 L493.9,236.2 L495.2,234.6 L496.5,233.0 L497.8,231.4 L499.1,229.7 L500.4,228.1 L501.7,226.5 L503.0,224.9 L504.3,223.3 L505.5,221.7 L506.8,220.0 L508.1,218.4 L509.3,216.8 L510.6,215.1 L511.9,213.5 L513.1,211.8 L514.4,210.2 L515.6,208.5 L516.8,206.9 L518.1,205.2 L519.3,203.6 L520.5,201.9 L521.8,200.3 L523.0,198.6 L524.2,196.9 L525.4,195.3 L526.6,193.6 L527.8,191.9 L529.0,190.2 L530.2,188.6 L531.4,186.9 L532.6,185.2 L533.8,183.5 L535.0,181.8 L536.1,180.1 L537.3,178.4 L538.5,176.7 L539.6,175.0 L540.8,173.3 L542.0,171.6 L543.1,169.9 L544.3,168.2 L545.4,166.5 L546.5,164.8 L547.7,163.1 L548.8,161.4 L549.9,159.7 L551.1,157.9 L552.2,156.2 L553.3,154.5 L554.4,152.8 L555.5,151.1 L556.7,149.3 L557.8,147.6 L558.9,145.9 L560.0,144.2 L561.0,142.4 L562.1,140.7 L563.2,139.0 L564.3,137.2 L565.4,135.5 L566.5,133.8 L567.5,132.0 L568.6,130.3 L569.7,128.5 L570.7,126.8 L571.8,125.1 L572.8,123.3 L573.9,121.6 L574.9,119.8 L576.0,118.1 L577.0,116.3 L578.1,114.6 L579.1,112.9 L580.1,111.1 L581.2,109.4 L582.2,107.6 L583.2,105.9 L584.2,104.1 L585.2,102.4 L586.2,100.6 L587.2,98.9 L588.2,97.1 L589.2,95.4 L590.2,93.6 L591.2,91.9 L592.2,90.1" fill="none" stroke="#006a00" stroke-width="2.2" stroke-linejoin="round"/>
<path d="M850.0,120.3 L851.4,120.2 L852.8,120.2 L854.1,120.1 L855.5,120.0 L856.9,119.9 L858.2,119.8 L859.6,119.8 L860.9,119.7 L862.3,119.6 L863.7,119.5 L865.0,119.5 L866.4,119.4 L867.8,119.3 L869.1,119.3 L870.5,119.2 L871.9,119.1 L873.2,119.1 L874.6,119.0 L876.0,119.0 L877.3,118.9 L878.7,118.8 L880.1,118.8 L881.4,118.7 L882.8,118.7 L884.2,118.6 L885.5,118.6 L886.9,118.5 L888.3,118.5 L889.6,118.4 L891.0,118.4 L892.4,118.3 L893.7,118.3 L895.1,118.2 L896.5,118.2 L897.8,118.2 L899.2,118.1 L900.6,118.1 L902.0,118.0 L903.3,118.0 L904.7,118.0 L906.1,117.9 L907.4,117.9 L908.8,117.9 L910.2,117.8 L911.5,117.8 L912.9,117.8 L914.3,117.7 L915.7,117.7 L917.0,117.7 L918.4,117.6 L919.8,117.6 L921.1,117.6 L922.5,117.6 L923.9,117.5 L925.3,117.5 L926.6,117.5 L928.0,117.5 L929.4,117.4 L930.8,117.4 L932.1,117.4 L933.5,117.4 L934.9,117.4 L936.2,117.3 L937.6,117.3 L939.0,117.3 L940.4,117.3 L941.7,117.3 L943.1,117.3 L944.5,117.2 L945.9,117.2 L947.2,117.2 L948.6,117.2 L950.0,117.2 L951.4,117.2 L952.7,117.2 L954.1,117.1 L955.5,117.1 L956.9,117.1 L958.2,117.1 L959.6,117.1 L961.0,117.1 L962.4,117.1 L963.7,117.1 L965.1,117.0 L966.5,117.0 L967.9,117.0 L969.2,117.0 L970.6,117.0 L972.0,117.0 L973.4,117.0 L974.7,117.0 L976.1,117.0 L977.5,117.0 L978.9,116.9 L980.2,116.9 L981.6,116.9 L983.0,116.9 L984.4,116.9 L985.8,116.9 L987.1,116.9 L988.5,116.9 L989.9,116.9 L991.3,116.9 L992.6,116.8 L994.0,116.8 L995.4,116.8 L996.8,116.8 L998.1,116.8 L999.5,116.8 L1000.9,116.8 L1002.3,116.8 L1003.6,116.8 L1005.0,116.7 L1006.4,116.7 L1007.8,116.7 L1009.1,116.7 L1010.5,116.7 L1011.9,116.7 L1013.3,116.7 L1014.7,116.6 L1016.0,116.6 L1017.4,116.6 L1018.8,116.6 L1020.2,116.6 L1021.5,116.6 L1022.9,116.6 L1024.3,116.5 L1025.7,116.5 L1027.0,116.5 L1028.4,116.5 L1029.8,116.5 L1031.2,116.4 L1032.5,116.4 L1033.9,116.4 L1035.3,116.4 L1036.7,116.4 L1038.0,116.3 L1039.4,116.3 L1040.8,116.3 L1042.2,116.3 L1043.5,116.2 L1044.9,116.2 L1046.3,116.2 L1047.7,116.1 L1049.0,116.1 L1050.4,116.1 L1051.8,116.1 L1053.2,116.0 L1054.5,116.0 L1055.9,116.0 L1057.3,115.9 L1058.7,115.9 L1060.0,115.8 L1061.4,115.8 L1062.8,115.8 L1064.2,115.7 L1065.5,115.7 L1066.9,115.6 L1068.3,115.6 L1069.7,115.6 L1071.0,115.5 L1072.4,115.5 L1073.8,115.4 L1075.1,115.4 L1076.5,115.3 L1077.9,115.3 L1079.3,115.2 L1080.6,115.2 L1082.0,115.1 L1083.4,115.1 L1084.8,115.0 L1086.1,114.9 L1087.5,114.9 L1088.9,114.8 L1090.2,114.8 L1091.6,114.7 L1093.0,114.6 L1094.4,114.6 L1095.7,114.5 L1097.1,114.4 L1098.5,114.4 L1099.8,114.3 L1101.2,114.2 L1102.6,114.2 L1104.0,114.1 L1105.3,114.0 L1106.7,113.9 L1108.1,113.8 L1109.4,113.8 L1110.8,113.7 L1112.2,113.6 L1113.5,113.5 L1114.9,113.4 L1116.3,113.3 L1117.6,113.2 L1119.0,113.1 L1120.4,113.0 L1121.7,113.0 L1123.1,112.9 L1124.5,112.8 L1125.8,112.7 L1127.2,112.5 L1128.6,112.4 L1129.9,112.3 L1131.3,112.2 L1132.7,112.1 L1134.0,112.0 L1135.4,111.9 L1136.8,111.8 L1138.1,111.7 L1139.5,111.5 L1140.9,111.4 L1142.2,111.3 L1143.6,111.2 L1145.0,111.0 L1146.3,110.9 L1147.7,110.8 L1149.0,110.6 L1150.4,110.5 L1151.8,110.4 L1153.1,110.2 L1154.5,110.1 L1155.9,109.9 L1157.2,109.8 L1158.6,109.6 L1159.9,109.5 L1161.3,109.3 L1162.7,109.2 L1164.0,109.0 L1165.4,108.9 L1166.7,108.7 L1168.1,108.5 L1169.5,108.4 L1170.8,108.2 L1172.2,108.0 L1173.5,107.9 L1174.9,107.7 L1176.2,107.5 L1177.6,107.3 L1179.0,107.1 L1180.3,107.0 L1181.7,106.8 L1183.0,106.6 L1184.4,106.4 L1185.7,106.2 L1187.1,106.0 L1188.5,105.8 L1189.8,105.6 L1191.2,105.4 L1192.5,105.2 L1193.9,105.0 L1195.2,104.8 L1196.6,104.5 L1197.9,104.3 L1199.3,104.1 L1200.6,103.9 L1202.0,103.7 L1203.3,103.4 L1204.7,103.2 L1206.0,103.0 L1207.4,102.7 L1208.7,102.5 L1210.1,102.2 L1211.4,102.0 L1212.8,101.7 L1214.1,101.5 L1215.5,101.2 L1216.8,101.0 L1218.2,100.7 L1219.5,100.5 L1220.9,100.2 L1222.2,99.9 L1223.6,99.7 L1224.9,99.4 L1226.2,99.1 L1227.6,98.8 L1228.9,98.5 L1230.3,98.3 L1231.6,98.0 L1233.0,97.7 L1234.3,97.4 L1235.6,97.1 L1237.0,96.8 L1238.3,96.5 L1239.7,96.2 L1241.0,95.9 L1242.4,95.5 L1243.7,95.2 L1245.0,94.9 L1246.4,94.6 L1247.7,94.2 L1249.0,93.9 L1250.4,93.6 L1251.7,93.2 L1253.1,92.9 L1254.4,92.6 L1255.7,92.2 L1257.1,91.9 L1258.4,91.5" fill="none" stroke="#ff0000" stroke-width="2.2" stroke-linejoin="round"/>
<path d="M849.9,392.3 L851.6,392.3 L853.4,392.3 L855.1,392.3 L856.9,392.3 L858.7,392.3 L860.4,392.3 L862.2,392.3 L864.0,392.3 L865.8,392.3 L867.5,392.3 L869.3,392.3 L871.1,392.2 L872.9,392.2 L874.7,392.2 L876.5,392.2 L878.3,392.1 L880.1,392.1 L881.9,392.0 L883.7,392.0 L885.5,391.9 L887.3,391.8 L889.1,391.8 L890.9,391.7 L892.7,391.6 L894.5,391.5 L896.3,391.4 L898.1,391.3 L899.9,391.3 L901.7,391.1 L903.5,391.0 L905.4,390.9 L907.2,390.8 L909.0,390.7 L910.8,390.5 L912.6,390.4 L914.4,390.3 L916.3,390.1 L918.1,390.0 L919.9,389.8 L921.7,389.6 L923.5,389.5 L925.3,389.3 L927.2,389.1 L929.0,388.9 L930.8,388.7 L932.6,388.5 L934.4,388.3 L936.3,388.1 L938.1,387.9 L939.9,387.6 L941.7,387.4 L943.5,387.2 L945.3,386.9 L947.1,386.7 L948.9,386.4 L950.8,386.1 L952.6,385.9 L954.4,385.6 L956.2,385.3 L958.0,385.0 L959.8,384.7 L961.6,384.4 L963.4,384.1 L965.2,383.7 L967.0,383.4 L968.8,383.1 L970.5,382.7 L972.3,382.4 L974.1,382.0 L975.9,381.6 L977.7,381.2 L979.5,380.9 L981.2,380.5 L983.0,380.1 L984.8,379.7 L986.6,379.2 L988.3,378.8 L990.1,378.4 L991.8,377.9 L993.6,377.5 L995.4,377.0 L997.1,376.6 L998.8,376.1 L1000.6,375.6 L1002.3,375.1 L1004.1,374.6 L1005.8,374.1 L1007.5,373.6 L1009.2,373.1 L1011.0,372.5 L1012.7,372.0 L1014.4,371.4 L1016.1,370.9 L1017.8,370.3 L1019.5,369.7 L1021.2,369.1 L1022.9,368.5 L1024.6,367.9 L1026.3,367.3 L1027.9,366.7 L1029.6,366.1 L1031.3,365.4 L1032.9,364.8 L1034.6,364.1 L1036.2,363.4 L1037.9,362.7 L1039.5,362.1 L1041.2,361.3 L1042.8,360.6 L1044.4,359.9 L1046.0,359.2 L1047.7,358.4 L1049.3,357.7 L1050.9,356.9 L1052.5,356.2 L1054.1,355.4 L1055.6,354.6 L1057.2,353.8 L1058.8,353.0 L1060.3,352.1 L1061.9,351.3 L1063.5,350.4 L1065.0,349.6 L1066.5,348.7 L1068.1,347.8 L1069.6,347.0 L1071.1,346.1 L1072.6,345.1 L1074.1,344.2 L1075.6,343.3 L1077.1,342.3 L1078.6,341.4 L1080.1,340.4 L1081.5,339.4 L1083.0,338.4 L1084.5,337.4 L1085.9,336.4 L1087.3,335.4 L1088.8,334.4 L1090.2,333.3 L1091.6,332.3 L1093.0,331.2 L1094.4,330.1 L1095.8,329.0 L1097.2,327.9 L1098.5,326.8 L1099.9,325.6 L1101.2,324.5 L1102.6,323.3 L1103.9,322.2 L1105.3,321.0 L1106.6,319.8 L1107.9,318.6 L1109.2,317.4 L1110.5,316.2 L1111.8,314.9 L1113.1,313.7 L1114.3,312.4 L1115.6,311.2 L1116.8,309.9 L1118.1,308.6 L1119.3,307.3 L1120.6,306.0 L1121.8,304.7 L1123.0,303.4 L1124.2,302.1 L1125.4,300.7 L1126.6,299.4 L1127.8,298.0 L1129.0,296.6 L1130.1,295.3 L1131.3,293.9 L1132.4,292.5 L1133.6,291.1 L1134.7,289.7 L1135.9,288.3 L1137.0,286.9 L1138.1,285.4 L1139.2,284.0 L1140.3,282.6 L1141.4,281.1 L1142.5,279.7 L1143.6,278.2 L1144.7,276.8 L1145.7,275.3 L1146.8,273.8 L1147.9,272.3 L1148.9,270.9 L1149.9,269.4 L1151.0,267.9 L1152.0,266.4 L1153.0,264.9 L1154.0,263.3 L1155.1,261.8 L1156.1,260.3 L1157.1,258.8 L1158.0,257.3 L1159.0,255.7 L1160.0,254.2 L1161.0,252.6 L1161.9,251.1 L1162.9,249.5 L1163.9,248.0 L1164.8,246.4 L1165.8,244.9 L1166.7,243.3 L1167.6,241.7 L1168.5,240.1 L1169.5,238.6 L1170.4,237.0 L1171.3,235.4 L1172.2,233.8 L1173.1,232.2 L1174.0,230.6 L1174.9,229.0 L1175.7,227.4 L1176.6,225.8 L1177.5,224.2 L1178.4,222.6 L1179.2,221.0 L1180.1,219.4 L1180.9,217.8 L1181.8,216.2 L1182.6,214.5 L1183.4,212.9 L1184.3,211.3 L1185.1,209.7 L1185.9,208.1 L1186.7,206.4 L1187.5,204.8 L1188.3,203.2 L1189.1,201.5 L1189.9,199.9 L1190.7,198.3 L1191.5,196.7 L1192.3,195.0 L1193.1,193.4 L1193.8,191.7 L1194.6,190.1 L1195.4,188.5 L1196.1,186.8 L1196.9,185.2 L1197.6,183.5 L1198.4,181.9 L1199.1,180.2 L1199.9,178.6 L1200.6,176.9 L1201.3,175.3 L1202.1,173.7 L1202.8,172.0 L1203.5,170.3 L1204.2,168.7 L1204.9,167.0 L1205.6,165.4 L1206.4,163.7 L1207.1,162.1 L1207.8,160.4 L1208.4,158.8 L1209.1,157.1 L1209.8,155.5 L1210.5,153.8 L1211.2,152.2 L1211.9,150.5 L1212.5,148.8 L1213.2,147.2 L1213.9,145.5 L1214.6,143.9 L1215.2,142.2 L1215.9,140.5 L1216.5,138.9 L1217.2,137.2 L1217.8,135.6 L1218.5,133.9 L1219.1,132.3 L1219.8,130.6 L1220.4,128.9 L1221.1,127.3 L1221.7,125.6 L1222.3,124.0 L1223.0,122.3 L1223.6,120.7 L1224.2,119.0 L1224.8,117.3 L1225.5,115.7 L1226.1,114.0 L1226.7,112.4 L1227.3,110.7 L1227.9,109.1 L1228.5,107.4 L1229.2,105.8 L1229.8,104.1 L1230.4,102.5 L1231.0,100.8 L1231.6,99.2 L1232.2,97.5 L1232.8,95.9 L1233.4,94.2 L1234.0,92.6 L1234.6,91.0" fill="none" stroke="#0000ff" stroke-width="2.2" stroke-linejoin="round"/>
<path d="M850.3,381.4 L852.3,381.2 L854.3,381.0 L856.3,380.8 L858.3,380.7 L860.3,380.5 L862.4,380.4 L864.4,380.2 L866.4,380.1 L868.4,380.0 L870.4,379.8 L872.4,379.7 L874.5,379.6 L876.5,379.5 L878.5,379.4 L880.5,379.3 L882.6,379.2 L884.6,379.1 L886.6,379.0 L888.7,378.9 L890.7,378.8 L892.7,378.8 L894.8,378.7 L896.8,378.6 L898.9,378.5 L900.9,378.5 L902.9,378.4 L905.0,378.4 L907.0,378.3 L909.1,378.3 L911.1,378.2 L913.2,378.2 L915.2,378.1 L917.3,378.1 L919.3,378.1 L921.4,378.0 L923.5,378.0 L925.5,377.9 L927.6,377.9 L929.6,377.9 L931.7,377.8 L933.8,377.8 L935.8,377.8 L937.9,377.8 L940.0,377.7 L942.0,377.7 L944.1,377.7 L946.2,377.6 L948.2,377.6 L950.3,377.6 L952.4,377.6 L954.4,377.5 L956.5,377.5 L958.6,377.5 L960.6,377.4 L962.7,377.4 L964.8,377.4 L966.9,377.3 L968.9,377.3 L971.0,377.2 L973.1,377.2 L975.1,377.2 L977.2,377.1 L979.3,377.1 L981.4,377.0 L983.4,376.9 L985.5,376.9 L987.6,376.8 L989.7,376.8 L991.7,376.7 L993.8,376.6 L995.9,376.5 L997.9,376.5 L1000.0,376.4 L1002.1,376.3 L1004.2,376.2 L1006.2,376.1 L1008.3,376.0 L1010.4,375.9 L1012.4,375.8 L1014.5,375.6 L1016.6,375.5 L1018.7,375.4 L1020.7,375.3 L1022.8,375.1 L1024.9,375.0 L1026.9,374.8 L1029.0,374.7 L1031.1,374.5 L1033.1,374.3 L1035.2,374.1 L1037.2,374.0 L1039.3,373.8 L1041.4,373.6 L1043.4,373.4 L1045.5,373.2 L1047.5,372.9 L1049.6,372.7 L1051.7,372.5 L1053.7,372.2 L1055.8,372.0 L1057.8,371.7 L1059.9,371.4 L1061.9,371.2 L1064.0,370.9 L1066.0,370.6 L1068.0,370.3 L1070.1,369.9 L1072.1,369.6 L1074.2,369.3 L1076.2,368.9 L1078.2,368.6 L1080.3,368.2 L1082.3,367.8 L1084.3,367.5 L1086.4,367.1 L1088.4,366.7 L1090.4,366.2 L1092.5,365.8 L1094.5,365.4 L1096.5,364.9 L1098.5,364.5 L1100.5,364.0 L1102.5,363.5 L1104.5,363.0 L1106.5,362.5 L1108.5,362.0 L1110.5,361.4 L1112.5,360.9 L1114.5,360.3 L1116.5,359.7 L1118.5,359.2 L1120.4,358.6 L1122.4,358.0 L1124.4,357.3 L1126.3,356.7 L1128.3,356.0 L1130.2,355.4 L1132.1,354.7 L1134.1,354.0 L1136.0,353.3 L1137.9,352.6 L1139.8,351.8 L1141.7,351.1 L1143.6,350.3 L1145.5,349.5 L1147.3,348.7 L1149.2,347.9 L1151.1,347.1 L1152.9,346.2 L1154.7,345.3 L1156.6,344.5 L1158.4,343.6 L1160.2,342.7 L1162.0,341.7 L1163.8,340.8 L1165.6,339.8 L1167.3,338.9 L1169.1,337.9 L1170.8,336.8 L1172.6,335.8 L1174.3,334.8 L1176.0,333.7 L1177.7,332.6 L1179.4,331.5 L1181.0,330.4 L1182.7,329.3 L1184.4,328.1 L1186.0,326.9 L1187.6,325.7 L1189.2,324.5 L1190.8,323.3 L1192.4,322.0 L1194.0,320.8 L1195.5,319.5 L1197.1,318.1 L1198.6,316.8 L1200.1,315.5 L1201.6,314.1 L1203.1,312.7 L1204.5,311.3 L1206.0,309.9 L1207.4,308.4 L1208.8,307.0 L1210.2,305.5 L1211.6,304.0 L1213.0,302.5 L1214.4,300.9 L1215.7,299.4 L1217.0,297.8 L1218.4,296.2 L1219.7,294.6 L1221.0,293.0 L1222.2,291.4 L1223.5,289.8 L1224.8,288.1 L1226.0,286.5 L1227.2,284.8 L1228.5,283.1 L1229.7,281.4 L1230.9,279.7 L1232.0,278.0 L1233.2,276.2 L1234.4,274.5 L1235.5,272.7 L1236.6,271.0 L1237.8,269.2 L1238.9,267.4 L1240.0,265.6 L1241.0,263.8 L1242.1,262.0 L1243.2,260.2 L1244.2,258.4 L1245.3,256.6 L1246.3,254.7 L1247.3,252.9 L1248.3,251.1 L1249.3,249.2 L1250.3,247.4 L1251.3,245.5 L1252.2,243.6 L1253.2,241.8 L1254.1,239.9 L1255.1,238.0 L1256.0,236.2 L1256.9,234.3 L1257.8,232.4 L1258.7,230.5 L1259.6,228.6 L1260.5,226.7 L1261.3,224.9 L1262.2,223.0 L1263.1,221.1 L1263.9,219.2 L1264.7,217.3 L1265.5,215.4 L1266.4,213.5 L1267.2,211.6 L1268.0,209.8 L1268.8,207.9 L1269.5,206.0 L1270.3,204.1 L1271.1,202.2 L1271.8,200.3 L1272.6,198.4 L1273.3,196.5 L1274.1,194.6 L1274.8,192.7 L1275.5,190.7 L1276.2,188.8 L1276.9,186.9 L1277.6,185.0 L1278.3,183.1 L1279.0,181.2 L1279.7,179.3 L1280.3,177.4 L1281.0,175.4 L1281.7,173.5 L1282.3,171.6 L1283.0,169.7 L1283.6,167.7 L1284.2,165.8 L1284.9,163.9 L1285.5,161.9 L1286.1,160.0 L1286.7,158.1 L1287.3,156.1 L1287.9,154.2 L1288.5,152.2 L1289.1,150.3 L1289.7,148.4 L1290.3,146.4 L1290.9,144.4 L1291.4,142.5 L1292.0,140.5 L1292.6,138.6 L1293.1,136.6 L1293.7,134.7 L1294.2,132.7 L1294.8,130.7 L1295.3,128.7 L1295.9,126.8 L1296.4,124.8 L1296.9,122.8 L1297.5,120.8 L1298.0,118.8 L1298.5,116.9 L1299.0,114.9 L1299.6,112.9 L1300.1,110.9 L1300.6,108.9 L1301.1,106.9 L1301.6,104.9 L1302.1,102.9 L1302.6,100.9 L1303.1,98.8 L1303.6,96.8 L1304.1,94.8 L1304.6,92.8 L1305.1,90.8" fill="none" stroke="#ff8000" stroke-width="2.2" stroke-linejoin="round"/>
<path d="M850.2,282.5 L851.8,282.4 L853.4,282.2 L855.0,282.1 L856.6,281.9 L858.2,281.8 L859.8,281.7 L861.4,281.5 L863.0,281.4 L864.6,281.2 L866.2,281.1 L867.8,280.9 L869.5,280.8 L871.1,280.7 L872.7,280.5 L874.3,280.4 L875.9,280.2 L877.5,280.1 L879.2,279.9 L880.8,279.8 L882.4,279.6 L884.0,279.5 L885.7,279.3 L887.3,279.2 L888.9,279.0 L890.5,278.9 L892.2,278.7 L893.8,278.6 L895.4,278.4 L897.0,278.3 L898.7,278.1 L900.3,278.0 L901.9,277.8 L903.6,277.7 L905.2,277.5 L906.8,277.4 L908.5,277.2 L910.1,277.1 L911.7,276.9 L913.4,276.7 L915.0,276.6 L916.6,276.4 L918.3,276.3 L919.9,276.1 L921.5,276.0 L923.2,275.8 L924.8,275.6 L926.5,275.5 L928.1,275.3 L929.7,275.2 L931.4,275.0 L933.0,274.8 L934.7,274.7 L936.3,274.5 L938.0,274.3 L939.6,274.2 L941.2,274.0 L942.9,273.9 L944.5,273.7 L946.2,273.5 L947.8,273.4 L949.5,273.2 L951.1,273.0 L952.8,272.9 L954.4,272.7 L956.0,272.5 L957.7,272.3 L959.3,272.2 L961.0,272.0 L962.6,271.8 L964.3,271.7 L965.9,271.5 L967.6,271.3 L969.2,271.1 L970.9,271.0 L972.5,270.8 L974.2,270.6 L975.8,270.4 L977.5,270.3 L979.1,270.1 L980.8,269.9 L982.4,269.7 L984.1,269.6 L985.7,269.4 L987.4,269.2 L989.0,269.0 L990.7,268.8 L992.3,268.7 L993.9,268.5 L995.6,268.3 L997.2,268.1 L998.9,267.9 L1000.5,267.7 L1002.2,267.6 L1003.8,267.4 L1005.5,267.2 L1007.1,267.0 L1008.8,266.8 L1010.4,266.6 L1012.1,266.4 L1013.7,266.3 L1015.4,266.1 L1017.0,265.9 L1018.7,265.7 L1020.3,265.5 L1022.0,265.3 L1023.6,265.1 L1025.2,264.9 L1026.9,264.7 L1028.5,264.5 L1030.2,264.3 L1031.8,264.2 L1033.5,264.0 L1035.1,263.8 L1036.8,263.6 L1038.4,263.4 L1040.0,263.2 L1041.7,263.0 L1043.3,262.8 L1045.0,262.6 L1046.6,262.4 L1048.2,262.2 L1049.9,262.0 L1051.5,261.8 L1053.2,261.6 L1054.8,261.4 L1056.4,261.2 L1058.1,261.0 L1059.7,260.8 L1061.3,260.6 L1063.0,260.3 L1064.6,260.1 L1066.2,259.9 L1067.9,259.7 L1069.5,259.5 L1071.1,259.3 L1072.8,259.1 L1074.4,258.9 L1076.0,258.7 L1077.7,258.4 L1079.3,258.2 L1080.9,258.0 L1082.5,257.7 L1084.1,257.5 L1085.8,257.3 L1087.4,257.0 L1089.0,256.7 L1090.6,256.5 L1092.2,256.2 L1093.8,255.9 L1095.4,255.6 L1097.0,255.3 L1098.6,255.0 L1100.2,254.7 L1101.8,254.4 L1103.4,254.0 L1105.0,253.7 L1106.5,253.3 L1108.1,253.0 L1109.7,252.6 L1111.2,252.2 L1112.8,251.8 L1114.4,251.3 L1115.9,250.9 L1117.5,250.5 L1119.0,250.0 L1120.5,249.5 L1122.1,249.0 L1123.6,248.5 L1125.1,248.0 L1126.6,247.5 L1128.2,246.9 L1129.7,246.4 L1131.2,245.8 L1132.7,245.2 L1134.1,244.6 L1135.6,243.9 L1137.1,243.3 L1138.6,242.6 L1140.0,241.9 L1141.5,241.3 L1143.0,240.5 L1144.4,239.8 L1145.8,239.1 L1147.3,238.3 L1148.7,237.6 L1150.1,236.8 L1151.5,236.0 L1152.9,235.2 L1154.3,234.4 L1155.7,233.6 L1157.1,232.7 L1158.5,231.9 L1159.9,231.0 L1161.2,230.1 L1162.6,229.2 L1163.9,228.3 L1165.3,227.4 L1166.6,226.4 L1168.0,225.5 L1169.3,224.5 L1170.6,223.5 L1171.9,222.6 L1173.2,221.6 L1174.5,220.5 L1175.8,219.5 L1177.1,218.5 L1178.3,217.5 L1179.6,216.4 L1180.9,215.3 L1182.1,214.3 L1183.4,213.2 L1184.6,212.1 L1185.8,211.0 L1187.0,209.8 L1188.2,208.7 L1189.4,207.6 L1190.6,206.4 L1191.8,205.3 L1193.0,204.1 L1194.2,202.9 L1195.3,201.7 L1196.5,200.5 L1197.6,199.3 L1198.8,198.1 L1199.9,196.9 L1201.0,195.7 L1202.1,194.4 L1203.2,193.2 L1204.3,191.9 L1205.4,190.6 L1206.5,189.4 L1207.5,188.1 L1208.6,186.8 L1209.6,185.5 L1210.7,184.2 L1211.7,182.9 L1212.7,181.6 L1213.7,180.2 L1214.7,178.9 L1215.7,177.5 L1216.7,176.2 L1217.7,174.8 L1218.7,173.5 L1219.6,172.1 L1220.6,170.7 L1221.5,169.3 L1222.4,168.0 L1223.3,166.6 L1224.2,165.2 L1225.1,163.8 L1226.0,162.4 L1226.9,160.9 L1227.8,159.5 L1228.6,158.1 L1229.5,156.7 L1230.3,155.2 L1231.1,153.8 L1232.0,152.3 L1232.8,150.9 L1233.6,149.4 L1234.4,148.0 L1235.2,146.5 L1235.9,145.0 L1236.7,143.6 L1237.5,142.1 L1238.2,140.6 L1239.0,139.1 L1239.7,137.7 L1240.4,136.2 L1241.1,134.7 L1241.9,133.2 L1242.6,131.7 L1243.2,130.2 L1243.9,128.7 L1244.6,127.2 L1245.3,125.7 L1245.9,124.2 L1246.6,122.7 L1247.2,121.2 L1247.9,119.7 L1248.5,118.1 L1249.1,116.6 L1249.7,115.1 L1250.3,113.6 L1250.9,112.1 L1251.5,110.6 L1252.1,109.0 L1252.7,107.5 L1253.2,106.0 L1253.8,104.5 L1254.3,103.0 L1254.9,101.4 L1255.4,99.9 L1256.0,98.4 L1256.5,96.9 L1257.0,95.3 L1257.5,93.8 L1258.0,92.3 L1258.5,90.8" fill="none" stroke="#00ff00" stroke-width="2.2" stroke-linejoin="round"/>
<path d="M850.1,248.5 L851.2,248.4 L852.3,248.2 L853.4,248.1 L854.6,247.9 L855.7,247.8 L856.8,247.6 L857.9,247.5 L859.0,247.3 L860.2,247.2 L861.3,247.0 L862.4,246.9 L863.5,246.7 L864.7,246.6 L865.8,246.4 L866.9,246.2 L868.1,246.1 L869.2,245.9 L870.3,245.7 L871.4,245.6 L872.6,245.4 L873.7,245.2 L874.8,245.1 L876.0,244.9 L877.1,244.7 L878.2,244.5 L879.4,244.3 L880.5,244.2 L881.6,244.0 L882.8,243.8 L883.9,243.6 L885.0,243.4 L886.2,243.2 L887.3,243.0 L888.5,242.8 L889.6,242.6 L890.7,242.4 L891.9,242.2 L893.0,242.0 L894.1,241.8 L895.3,241.6 L896.4,241.4 L897.6,241.2 L898.7,241.0 L899.8,240.8 L901.0,240.5 L902.1,240.3 L903.2,240.1 L904.4,239.9 L905.5,239.7 L906.7,239.4 L907.8,239.2 L908.9,239.0 L910.1,238.7 L911.2,238.5 L912.4,238.3 L913.5,238.0 L914.6,237.8 L915.8,237.5 L916.9,237.3 L918.1,237.1 L919.2,236.8 L920.3,236.6 L921.5,236.3 L922.6,236.0 L923.7,235.8 L924.9,235.5 L926.0,235.3 L927.1,235.0 L928.3,234.7 L929.4,234.5 L930.6,234.2 L931.7,233.9 L932.8,233.6 L934.0,233.4 L935.1,233.1 L936.2,232.8 L937.3,232.5 L938.5,232.2 L939.6,231.9 L940.7,231.6 L941.9,231.3 L943.0,231.0 L944.1,230.7 L945.3,230.4 L946.4,230.1 L947.5,229.8 L948.6,229.5 L949.8,229.2 L950.9,228.9 L952.0,228.6 L953.1,228.2 L954.3,227.9 L955.4,227.6 L956.5,227.3 L957.6,226.9 L958.7,226.6 L959.9,226.3 L961.0,225.9 L962.1,225.6 L963.2,225.3 L964.3,224.9 L965.4,224.6 L966.5,224.2 L967.7,223.9 L968.8,223.5 L969.9,223.1 L971.0,222.8 L972.1,222.4 L973.2,222.0 L974.3,221.7 L975.4,221.3 L976.5,220.9 L977.6,220.5 L978.7,220.2 L979.8,219.8 L980.9,219.4 L982.0,219.0 L983.1,218.6 L984.2,218.2 L985.3,217.8 L986.4,217.4 L987.5,217.0 L988.6,216.6 L989.7,216.2 L990.7,215.8 L991.8,215.4 L992.9,215.0 L994.0,214.5 L995.1,214.1 L996.1,213.7 L997.2,213.3 L998.3,212.8 L999.4,212.4 L1000.5,211.9 L1001.5,211.5 L1002.6,211.1 L1003.7,210.6 L1004.7,210.2 L1005.8,209.7 L1006.9,209.2 L1007.9,208.8 L1009.0,208.3 L1010.0,207.9 L1011.1,207.4 L1012.1,206.9 L1013.2,206.4 L1014.3,206.0 L1015.3,205.5 L1016.3,205.0 L1017.4,204.5 L1018.4,204.0 L1019.5,203.5 L1020.5,203.0 L1021.6,202.5 L1022.6,202.0 L1023.6,201.5 L1024.7,201.0 L1025.7,200.5 L1026.7,199.9 L1027.7,199.4 L1028.8,198.9 L1029.8,198.4 L1030.8,197.8 L1031.8,197.3 L1032.8,196.8 L1033.9,196.2 L1034.9,195.7 L1035.9,195.1 L1036.9,194.6 L1037.9,194.0 L1038.9,193.5 L1039.9,192.9 L1040.9,192.3 L1041.9,191.8 L1042.9,191.2 L1043.9,190.6 L1044.9,190.0 L1045.9,189.4 L1046.8,188.9 L1047.8,188.3 L1048.8,187.7 L1049.8,187.1 L1050.7,186.5 L1051.7,185.9 L1052.7,185.3 L1053.7,184.6 L1054.6,184.0 L1055.6,183.4 L1056.5,182.8 L1057.5,182.2 L1058.5,181.5 L1059.4,180.9 L1060.4,180.3 L1061.3,179.6 L1062.2,179.0 L1063.2,178.3 L1064.1,177.7 L1065.1,177.0 L1066.0,176.3 L1066.9,175.7 L1067.8,175.0 L1068.8,174.3 L1069.7,173.7 L1070.6,173.0 L1071.5,172.3 L1072.4,171.6 L1073.4,170.9 L1074.3,170.2 L1075.2,169.5 L1076.1,168.8 L1077.0,168.1 L1077.9,167.4 L1078.7,166.7 L1079.6,166.0 L1080.5,165.2 L1081.4,164.5 L1082.3,163.8 L1083.2,163.1 L1084.0,162.3 L1084.9,161.6 L1085.8,160.8 L1086.6,160.1 L1087.5,159.3 L1088.4,158.6 L1089.2,157.8 L1090.1,157.0 L1090.9,156.3 L1091.8,155.5 L1092.6,154.7 L1093.4,153.9 L1094.3,153.1 L1095.1,152.3 L1095.9,151.6 L1096.8,150.8 L1097.6,150.0 L1098.4,149.1 L1099.2,148.3 L1100.0,147.5 L1100.8,146.7 L1101.6,145.9 L1102.4,145.1 L1103.2,144.2 L1104.0,143.4 L1104.8,142.6 L1105.6,141.7 L1106.4,140.9 L1107.2,140.0 L1107.9,139.2 L1108.7,138.3 L1109.5,137.4 L1110.2,136.6 L1111.0,135.7 L1111.8,134.8 L1112.5,133.9 L1113.3,133.1 L1114.0,132.2 L1114.7,131.3 L1115.5,130.4 L1116.2,129.5 L1116.9,128.6 L1117.7,127.7 L1118.4,126.8 L1119.1,125.9 L1119.8,124.9 L1120.5,124.0 L1121.2,123.1 L1121.9,122.2 L1122.6,121.2 L1123.3,120.3 L1124.0,119.3 L1124.7,118.4 L1125.4,117.4 L1126.1,116.5 L1126.7,115.5 L1127.4,114.5 L1128.1,113.6 L1128.7,112.6 L1129.4,111.6 L1130.0,110.6 L1130.7,109.7 L1131.3,108.7 L1132.0,107.7 L1132.6,106.7 L1133.2,105.7 L1133.9,104.7 L1134.5,103.7 L1135.1,102.6 L1135.7,101.6 L1136.3,100.6 L1136.9,99.6 L1137.5,98.5 L1138.1,97.5 L1138.7,96.5 L1139.3,95.4 L1139.9,94.4 L1140.5,93.3 L1141.0,92.3 L1141.6,91.2 L1142.2,90.1" fill="none" stroke="#006a00" stroke-width="2.2" stroke-linejoin="round"/>
<text x="276.6" y="593.2" class="ti">Voltage (V)</text>
<text x="1003.1" y="593.2" class="ti">Voltage (V)</text>
<text x="279.5" y="1147.6" class="ti">Rate (A/m)</text>
<text x="965.9" y="1142.4" class="ti">Thickness (nm)</text>
<text transform="translate(39.8,533.8) rotate(-90)" class="ti" style="font-size:37.7px">Current Density (mA/cm<tspan font-size="24" font-weight="normal" dy="-18">2</tspan><tspan dy="18">)</tspan></text>
<text transform="translate(758.6,536.1) rotate(-90)" class="ti" style="font-size:37.7px">Current Density (mA/cm<tspan font-size="24" font-weight="normal" dy="-18">2</tspan><tspan dy="18">)</tspan></text>
<text transform="translate(62.8,989.0) rotate(-90)" class="ti" style="font-size:37.7px">Efficiency (%)</text>
<text transform="translate(796.6,986.0) rotate(-90)" class="ti" style="font-size:37.7px">Efficiency (%)</text>
</svg>
</body></html>
